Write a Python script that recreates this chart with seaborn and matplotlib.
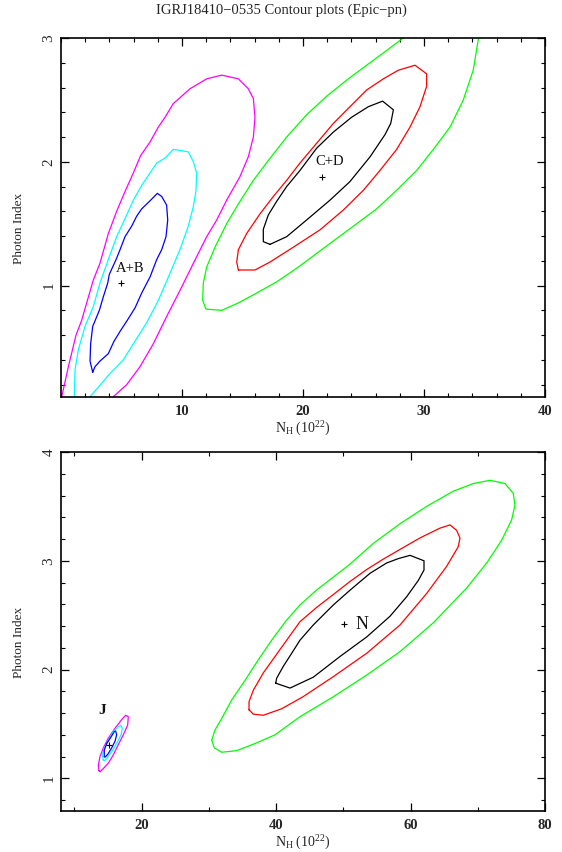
import numpy as np
import matplotlib
matplotlib.use("Agg")
import matplotlib.pyplot as plt
import seaborn as sns
from matplotlib.ticker import FixedLocator, MultipleLocator

# ---------------- data ----------------
title = "IGRJ18410\u22120535 Contour plots (Epic\u2212pn)"

# top panel: A+B contours (open at bottom)
ab_outer_x = [-0.17, 0.06, 0.61, 1.24, 1.71, 2.67, 3.22, 3.91, 4.60, 5.29, 5.98, 6.58, 7.36, 8.04, 8.60,
              9.28, 9.97, 10.66, 12.04, 13.28, 14.66, 15.48, 15.90, 16.03, 15.90, 15.48, 14.79, 13.69,
              12.87, 12.04, 10.94, 9.83, 8.73, 7.63, 6.53, 5.43, 4.33, 3.90]
ab_outer_y = [0.00, 0.103, 0.345, 0.60, 0.72, 1.045, 1.18, 1.42, 1.60, 1.76, 1.91, 2.05, 2.16, 2.28, 2.36,
              2.47, 2.53, 2.59, 2.67, 2.70, 2.67, 2.59, 2.51, 2.36, 2.20, 2.04, 1.88, 1.69,
              1.53, 1.395, 1.18, 0.96, 0.75, 0.53, 0.345, 0.20, 0.103, 0.00]
ab_mid_x = [1.08, 1.10, 1.16, 1.43, 1.98, 2.67, 3.22, 3.91, 4.60, 5.29, 5.98, 6.67, 7.36, 7.91, 8.60, 9.28,
            10.52, 10.94, 11.21, 11.16, 10.94, 10.52, 9.83, 9.01, 8.04, 7.08, 5.98, 5.15, 4.05, 3.09, 2.40, 1.50]
ab_mid_y = [0.00, 0.103, 0.32, 0.48, 0.67, 0.83, 1.02, 1.21, 1.395, 1.54, 1.69, 1.81, 1.91, 1.99, 2.03, 2.10,
            2.08, 2.00, 1.91, 1.77, 1.64, 1.48, 1.29, 1.10, 0.88, 0.70, 0.53, 0.40, 0.29, 0.18, 0.103, 0.00]
ab_in_x = [2.62, 2.40, 2.45, 2.62, 3.17, 3.50, 3.86, 3.99, 4.55, 4.88, 5.29, 5.84, 6.25, 6.67, 7.41, 7.96,
           8.32, 8.73, 8.82, 8.68, 8.32, 7.91, 7.36, 6.67, 6.12, 5.48, 4.88, 4.38, 3.91, 3.22, 2.81]
ab_in_y = [0.30, 0.39, 0.53, 0.67, 0.80, 0.91, 1.02, 1.09, 1.21, 1.29, 1.395, 1.48, 1.56, 1.62, 1.69, 1.745,
           1.72, 1.65, 1.53, 1.395, 1.29, 1.21, 1.07, 0.94, 0.82, 0.72, 0.63, 0.55, 0.45, 0.39, 0.345]

# top panel: C+D contours
cd_outer_x = [28.97, 28.15, 26.92, 25.26, 23.61, 21.96, 20.30, 18.65, 17.13, 15.90, 14.66, 13.69, 12.73,
              12.04, 11.76, 11.71, 11.98, 13.28, 14.66, 16.17, 17.82, 19.48, 21.13, 22.78, 24.44, 26.09,
              27.74, 29.39, 30.77, 32.15, 33.25, 34.07, 34.49, 34.59]
cd_outer_y = [3.05, 2.99, 2.90, 2.78, 2.66, 2.53, 2.38, 2.20, 2.01, 1.85, 1.66, 1.50, 1.31,
              1.15, 1.02, 0.88, 0.81, 0.80, 0.86, 0.94, 1.03, 1.14, 1.26, 1.38, 1.50, 1.62,
              1.77, 1.93, 2.10, 2.28, 2.50, 2.74, 2.99, 3.05]
cd_mid_x = [14.66, 14.52, 14.66, 15.34, 16.45, 17.55, 18.65, 19.75, 21.13, 22.51, 23.88, 25.26, 26.64, 27.88,
            29.26, 30.22, 30.22, 29.67, 28.84, 27.74, 26.36, 24.99, 23.33, 21.40, 19.20, 17.27, 16.03]
cd_mid_y = [1.126, 1.19, 1.29, 1.42, 1.58, 1.72, 1.85, 1.99, 2.15, 2.31, 2.445, 2.58, 2.67, 2.74,
            2.78, 2.71, 2.61, 2.445, 2.28, 2.10, 1.93, 1.77, 1.61, 1.45, 1.31, 1.19, 1.126]
cd_in_x = [17.27, 16.72, 16.72, 17.13, 17.82, 18.65, 19.75, 21.13, 22.51, 24.02, 25.40, 26.58, 27.47,
           27.25, 26.78, 25.54, 23.88, 22.23, 20.30, 18.65]
cd_in_y = [1.333, 1.355, 1.455, 1.57, 1.68, 1.80, 1.93, 2.11, 2.24, 2.36, 2.445, 2.49, 2.42,
           2.31, 2.22, 2.04, 1.84, 1.69, 1.53, 1.395]

# bottom panel: N contours
n_outer_x = [30.42, 30.91, 31.90, 33.39, 35.37, 37.35, 39.34, 41.50, 43.55, 46.00, 48.51, 51.00, 54.46,
             58.42, 62.39, 66.36, 69.33, 71.81, 74.04, 75.28, 75.53, 75.03, 73.56, 71.33, 68.35, 63.39,
             58.43, 53.48, 48.51, 43.55, 39.84, 36.86, 34.14, 31.90, 30.81]
n_outer_y = [1.35, 1.445, 1.55, 1.72, 1.90, 2.09, 2.27, 2.45, 2.594, 2.73, 2.85, 2.97, 3.16,
             3.34, 3.50, 3.64, 3.71, 3.74, 3.71, 3.62, 3.51, 3.375, 3.19, 2.98, 2.75, 2.43,
             2.165, 1.95, 1.75, 1.567, 1.40, 1.32, 1.255, 1.24, 1.28]
n_mid_x = [35.97, 35.97, 36.61, 38.10, 39.84, 41.57, 43.55, 46.00, 48.51, 51.00, 53.48, 55.80, 58.30, 61.40,
           64.37, 65.86, 66.85, 67.35, 67.10, 65.38, 62.40, 58.43, 53.48, 48.51, 44.00, 40.83, 38.10, 36.61]
n_mid_y = [1.63, 1.705, 1.81, 1.97, 2.12, 2.27, 2.44, 2.57, 2.69, 2.81, 2.92, 3.01, 3.10, 3.21,
           3.30, 3.33, 3.28, 3.21, 3.13, 2.95, 2.70, 2.41, 2.15, 1.935, 1.75, 1.64, 1.58, 1.59]
n_in_x = [39.94, 40.08, 41.07, 42.32, 43.55, 45.53, 48.51, 51.00, 53.97, 56.45, 58.18, 59.92, 62.00,
          62.00, 61.16, 59.43, 56.94, 53.48, 49.50, 45.53, 42.07]
n_in_y = [1.875, 1.92, 2.03, 2.15, 2.27, 2.41, 2.594, 2.73, 2.885, 2.98, 3.02, 3.05, 3.00,
          2.915, 2.82, 2.67, 2.49, 2.30, 2.12, 1.93, 1.83]

# bottom panel: J contours
j_outer_x = [13.65, 13.55, 13.80, 14.29, 15.04, 16.03, 17.03, 17.62, 18.01, 17.92, 17.27, 16.52, 15.78,
             15.04, 14.29, 13.80]
j_outer_y = [1.07, 1.12, 1.20, 1.28, 1.37, 1.46, 1.54, 1.58, 1.567, 1.49, 1.40, 1.31, 1.215,
             1.14, 1.09, 1.06]
j_mid_x = [14.29, 14.15, 14.44, 15.04, 15.78, 16.52, 16.93, 17.12, 16.93, 16.28, 15.54, 14.80, 14.44]
j_mid_y = [1.17, 1.215, 1.28, 1.35, 1.43, 1.475, 1.485, 1.46, 1.40, 1.32, 1.245, 1.185, 1.16]
j_in_x = [14.44, 14.44, 14.80, 15.44, 15.93, 16.13, 16.28, 16.03, 15.54, 14.95, 14.55]
j_in_y = [1.20, 1.26, 1.32, 1.38, 1.43, 1.435, 1.40, 1.34, 1.28, 1.22, 1.195]

# best-fit points and labels
top_best_x = [4.96, 21.54]
top_best_y = [1.02, 1.88]
top_labels = ["A+B", "C+D"]
top_label_x = [5.7, 22.2]
top_label_y = [1.14, 2.0]
bot_best_x = [15.14, 50.15]
bot_best_y = [1.31, 2.42]
bot_labels = ["J", "N"]
bot_label_x = [14.05, 52.8]
bot_label_y = [1.62, 2.41]

top_xticks = [10, 20, 30, 40]
top_yticks = [1, 2, 3]
bot_xticks = [20, 40, 60, 80]
bot_yticks = [1, 2, 3, 4]

MAG, CYA, BLU = "#ff00ff", "#00ffff", "#0000ff"
GRN, RED, BLK = "#00ff00", "#ff0000", "#000000"

# ---------------- style ----------------
sns.set_theme(style="white")
plt.rcParams['font.family'] = ['Liberation Serif', 'DejaVu Serif']
plt.rcParams['mathtext.fontset'] = 'custom'
plt.rcParams['mathtext.rm'] = 'Liberation Serif'
plt.rcParams['mathtext.it'] = 'Liberation Serif:italic'
plt.rcParams['mathtext.bf'] = 'Liberation Serif:bold'

fig = plt.figure(figsize=(5.62, 8.52), dpi=100)
W, H = 562, 852
ax1 = fig.add_axes([61 / W, 1 - 397 / H, 484 / W, 359 / H])
ax2 = fig.add_axes([61 / W, 1 - 811 / H, 484 / W, 359 / H])


def contour(ax, xs, ys, color, closed=True):
    xs = list(xs)
    ys = list(ys)
    if closed:
        xs = xs + xs[:1]
        ys = ys + ys[:1]
    sns.lineplot(x=xs, y=ys, sort=False, estimator=None, color=color,
                 lw=0.9, ax=ax, legend=False)


contour(ax1, ab_outer_x, ab_outer_y, MAG, closed=False)
contour(ax1, ab_mid_x, ab_mid_y, CYA, closed=False)
contour(ax1, ab_in_x, ab_in_y, BLU)
contour(ax1, cd_outer_x, cd_outer_y, GRN, closed=False)
contour(ax1, cd_mid_x, cd_mid_y, RED)
contour(ax1, cd_in_x, cd_in_y, BLK)

contour(ax2, n_outer_x, n_outer_y, GRN)
contour(ax2, n_mid_x, n_mid_y, RED)
contour(ax2, n_in_x, n_in_y, BLK)
contour(ax2, j_outer_x, j_outer_y, MAG)
contour(ax2, j_mid_x, j_mid_y, CYA)
contour(ax2, j_in_x, j_in_y, BLU)

for ax, bx, by in [(ax1, top_best_x, top_best_y), (ax2, bot_best_x, bot_best_y)]:
    sns.scatterplot(x=bx, y=by, marker='+', color='black', s=22, linewidth=0.8,
                    ax=ax, legend=False, zorder=5)

for lab, lx, ly in zip(top_labels, top_label_x, top_label_y):
    ax1.text(lx, ly, lab, ha='center', va='center', fontsize=10.5, color='#111111')
ax2.text(bot_label_x[0], bot_label_y[0], bot_labels[0], ha='center', va='center',
         fontsize=11, fontweight='bold', color='#111111')
ax2.text(bot_label_x[1], bot_label_y[1], bot_labels[1], ha='center', va='center',
         fontsize=13, color='#111111')

# axes formatting
ax1.set_xlim(0, 40)
ax1.set_ylim(0.1, 3)
ax2.set_xlim(8, 80)
ax2.set_ylim(0.7, 4)

ax1.xaxis.set_major_locator(FixedLocator(top_xticks))
ax1.xaxis.set_minor_locator(MultipleLocator(2))
ax1.yaxis.set_major_locator(FixedLocator(top_yticks))
ax1.yaxis.set_minor_locator(MultipleLocator(0.2))
ax2.xaxis.set_major_locator(FixedLocator(bot_xticks))
ax2.xaxis.set_minor_locator(MultipleLocator(10))
ax2.yaxis.set_major_locator(FixedLocator(bot_yticks))
ax2.yaxis.set_minor_locator(MultipleLocator(0.2))

for ax in (ax1, ax2):
    for s in ax.spines.values():
        s.set_visible(True)
        s.set_color('black')
        s.set_linewidth(1.2)
    ax.tick_params(which='both', direction='in', top=True, right=True,
                   bottom=True, left=True, color='black')
    ax.tick_params(which='major', length=5.5, width=0.9)
    ax.tick_params(which='minor', length=3, width=0.8)
    ax.tick_params(axis='x', which='major', labelsize=10.5, pad=6)
    ax.tick_params(axis='y', which='major', labelsize=11, pad=4, labelrotation=90)
    for t in ax.get_xticklabels():
        t.set_fontweight('bold')
    for t in ax.get_yticklabels():
        t.set_va('center')
    ax.set_xlabel(r"N$_{\rm H}$ (10$^{22}$)", fontsize=10)
    ax.set_ylabel("Photon Index", fontsize=9.5)
    ax.yaxis.set_label_coords(-0.074, 0.47)
    ax.xaxis.set_label_coords(0.5, -0.064)
    ax.grid(False)
    ax.set_facecolor('white')

fig.text(0.5, 1 - 10 / H, title, ha='center', va='center', fontsize=10.5)

fig.savefig("out.png", dpi=100, facecolor='white')
